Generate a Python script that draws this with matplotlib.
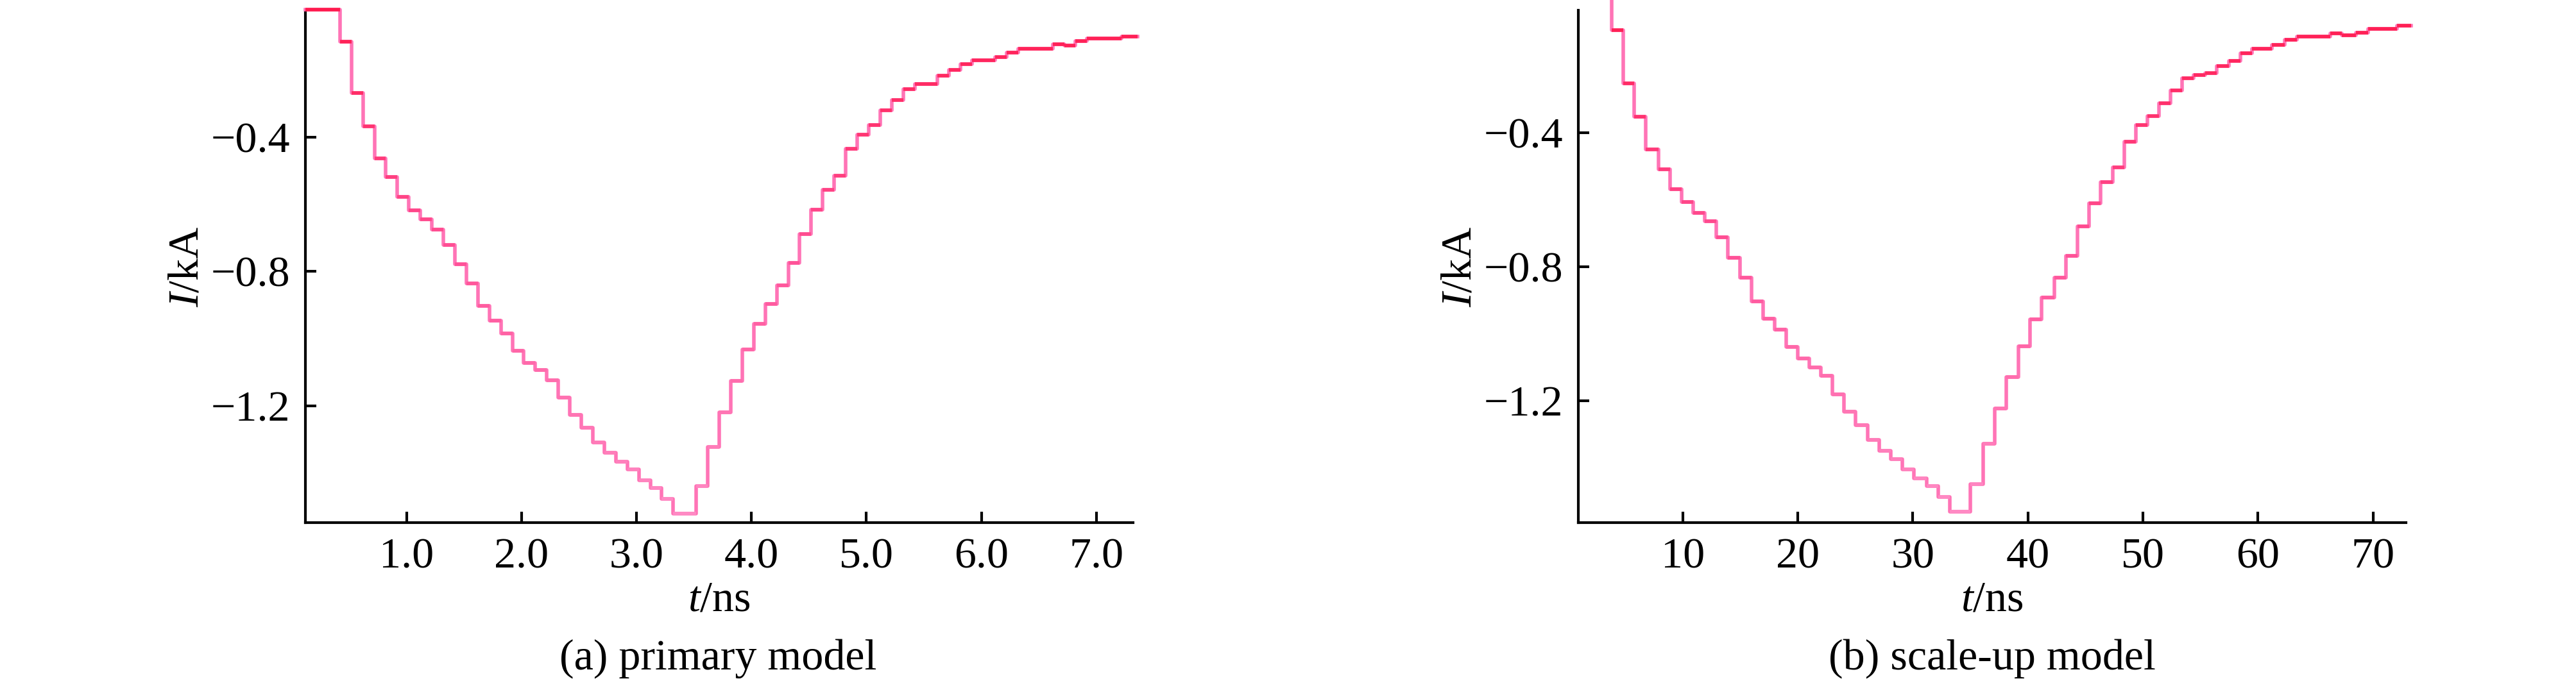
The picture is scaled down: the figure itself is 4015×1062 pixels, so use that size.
import matplotlib
matplotlib.use("Agg")
import matplotlib.pyplot as plt
from matplotlib.colors import LinearSegmentedColormap, Normalize

plt.rcParams['font.family'] = ['Liberation Serif', 'DejaVu Serif']
plt.rcParams['mathtext.fontset'] = 'custom'
plt.rcParams['mathtext.rm'] = 'Liberation Serif'
plt.rcParams['mathtext.it'] = 'Liberation Serif:italic'

# (a) primary model: step start times (ns) and current (kA), last entry = end of trace
t_a = [0.12, 0.42, 0.52, 0.62, 0.72, 0.82, 0.92,
       1.02, 1.12, 1.22, 1.32, 1.42, 1.52, 1.62, 1.72, 1.82, 1.92,
       2.02, 2.12, 2.22, 2.32, 2.42, 2.52, 2.62, 2.72, 2.82, 2.92,
       3.02, 3.12, 3.22, 3.32, 3.52, 3.62, 3.72, 3.82, 3.92,
       4.02, 4.12, 4.22, 4.32, 4.42, 4.52, 4.62, 4.72, 4.82, 4.92,
       5.02, 5.12, 5.22, 5.32, 5.42, 5.62, 5.72, 5.82, 5.92,
       6.12, 6.22, 6.32, 6.62, 6.72, 6.82, 6.92, 7.22, 7.36]
i_a = [-0.020, -0.116, -0.268, -0.367, -0.463, -0.518, -0.578,
       -0.618, -0.644, -0.675, -0.721, -0.778, -0.835, -0.902, -0.946, -0.984, -1.036,
       -1.072, -1.093, -1.124, -1.175, -1.227, -1.265, -1.309, -1.339, -1.366, -1.389,
       -1.421, -1.444, -1.477, -1.521, -1.439, -1.322, -1.219, -1.126, -1.032,
       -0.956, -0.896, -0.841, -0.774, -0.688, -0.616, -0.557, -0.515, -0.434, -0.392,
       -0.364, -0.320, -0.289, -0.257, -0.242, -0.217, -0.200, -0.182, -0.171,
       -0.161, -0.148, -0.137, -0.123, -0.127, -0.114, -0.106, -0.100, -0.100]

# (b) scale-up model
t_b = [3.8, 3.8, 4.8, 5.8, 6.8,
       7.9, 8.9, 9.9, 10.9, 11.9, 12.9, 13.9,
       15.0, 16.0, 17.0, 18.0, 19.0, 20.0, 21.0, 22.0, 23.0, 24.0, 25.0,
       26.1, 27.1, 28.1, 29.1, 30.1, 31.2, 32.2, 33.2,
       35.0, 36.1, 37.1, 38.1, 39.2, 40.2, 41.2,
       42.3, 43.3, 44.3, 45.3, 46.3,
       47.4, 48.4, 49.4, 50.4, 51.4, 52.4, 53.4, 54.4, 55.4, 56.4,
       57.5, 58.5, 59.5, 61.2, 62.3, 63.4, 66.3, 67.3, 68.5, 69.6, 72.1, 73.3]
i_b = [0.0, -0.094, -0.253, -0.352, -0.450,
       -0.509, -0.568, -0.607, -0.639, -0.664, -0.712, -0.773,
       -0.833, -0.903, -0.955, -0.988, -1.039, -1.074, -1.100, -1.125, -1.181, -1.233, -1.273,
       -1.317, -1.349, -1.374, -1.405, -1.432, -1.455, -1.487, -1.531,
       -1.449, -1.328, -1.223, -1.129, -1.037, -0.957, -0.892,
       -0.833, -0.768, -0.680, -0.611, -0.547,
       -0.503, -0.427, -0.377, -0.350, -0.312, -0.274, -0.237, -0.228, -0.222, -0.201,
       -0.186, -0.163, -0.149, -0.138, -0.122, -0.113, -0.103, -0.109, -0.101, -0.090, -0.080, -0.080]

ticks_a = [1.0, 2.0, 3.0, 4.0, 5.0, 6.0, 7.0]
ticks_b = [10, 20, 30, 40, 50, 60, 70]
yticks = [-1.2, -0.8, -0.4]
captions = ['(a) primary model', '(b) scale-up model']

FS = 49
LW = 4.0
pink = '#ff74b6'
cmap = LinearSegmentedColormap.from_list('pk', ['#ff8ac4', '#ff5096', '#ff1a4c'])
norm = Normalize(vmin=-1.5, vmax=0.0)

fig = plt.figure(figsize=(40.16, 10.62), dpi=100)
ax_a = fig.add_axes([0.11853, 0.23258, 0.32122, 0.75235])
ax_b = fig.add_axes([0.61255, 0.23258, 0.32122, 0.75235])


def draw(ax, t, cur, xlim, ylim, xticks, xfmt, cap, cx):
    ax.step(t, cur, where='post', color=pink, lw=LW, clip_on=False, zorder=3)
    # horizontal plateaus look deeper red the more negative the current
    for k in range(len(t) - 1):
        if t[k + 1] > t[k]:
            ax.hlines(cur[k], t[k], t[k + 1], colors=[cmap(norm(cur[k]))],
                      lw=LW, clip_on=False, zorder=4)
    ax.set_xlim(*xlim)
    ax.set_ylim(*ylim)
    ax.set_xticks(xticks)
    ax.set_xticklabels([xfmt % v for v in xticks])
    ax.set_yticks(yticks)
    ax.set_yticklabels(['\u2212%.1f' % abs(v) for v in yticks])
    for s in ['top', 'right']:
        ax.spines[s].set_visible(False)
    for s in ['left', 'bottom']:
        ax.spines[s].set_linewidth(3.0)
    ax.tick_params(direction='in', length=12, width=3.0, labelsize=FS, pad=17)
    ax.set_ylabel(r'$I$/kA', fontsize=FS)
    ax.yaxis.set_label_coords(-0.119, 0.5)
    ax.set_xlabel(r'$t$/ns', fontsize=FS, labelpad=4)
    fig.text(cx, 0.017, cap, fontsize=FS, ha='center', va='baseline')


draw(ax_a, t_a, i_a, (0.12, 7.32), (-1.548, -0.022), ticks_a, '%.1f', captions[0], 1119 / 4016)
draw(ax_b, t_b, i_b, (0.92, 72.87), (-1.564, -0.034), ticks_b, '%d', captions[1], 3105 / 4016)

fig.savefig('out.png', dpi=100)
